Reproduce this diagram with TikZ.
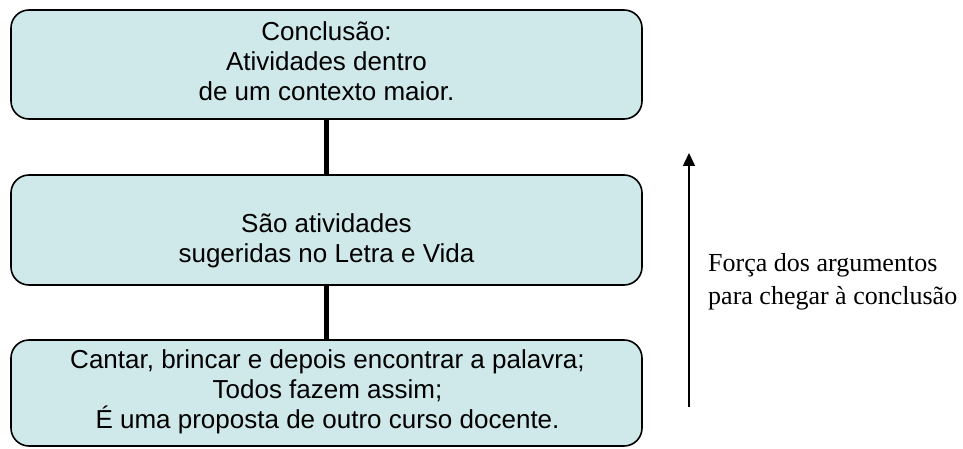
\documentclass[tikz,border=0pt]{standalone}
\usepackage{fontspec}
\setmainfont{Liberation Serif}
\newfontfamily\arialfont{Liberation Sans}
\usetikzlibrary{arrows.meta}
\definecolor{boxfill}{RGB}{207,232,234}
\begin{document}
\begin{tikzpicture}[x=1pt,y=-1pt,
  box/.style={draw=black,line width=1.6pt,fill=boxfill,rounded corners=18pt,inner sep=0pt,minimum width=631pt},
  boxtext/.style={font=\arialfont\fontsize{26}{30}\selectfont,align=center,inner sep=0pt},
  link/.style={line width=5pt,black},
  sidetext/.style={font=\fontsize{26}{33}\selectfont,align=left,inner sep=0pt,anchor=west},
  force/.style={line width=1.5pt,-{Triangle[width=12pt,length=13pt]}}]
\useasboundingbox (0,0) rectangle (963,449);
% boxes
\node[box,minimum height=109pt] (concl) at (326.5,64.5) {};
\node[box,minimum height=110pt] (mid) at (326.5,230) {};
\node[box,minimum height=106pt] (bot) at (326.5,393) {};
% texts
\node[boxtext] (tconcl) at (326.5,61) {Conclusão:\\Atividades dentro\\de um contexto maior.};
\node[boxtext] (tmid) at (326.5,241) {São atividades\\sugeridas no Letra e Vida};
\node[boxtext] (tbot) at (327.5,391.5) {Cantar, brincar e depois encontrar a palavra;\\Todos fazem assim;\\É uma proposta de outro curso docente.};
% connectors
\draw[link] (concl.south) -- (mid.north);
\draw[link] (mid.south) -- (bot.north);
% force arrow
\coordinate (abot) at (689,407);
\coordinate (atop) at (689,153);
\draw[force] (abot) -- (atop);
\node[sidetext] (tforce) at (708,282) {Força dos argumentos\\para chegar à conclusão};
\end{tikzpicture}
\end{document}
